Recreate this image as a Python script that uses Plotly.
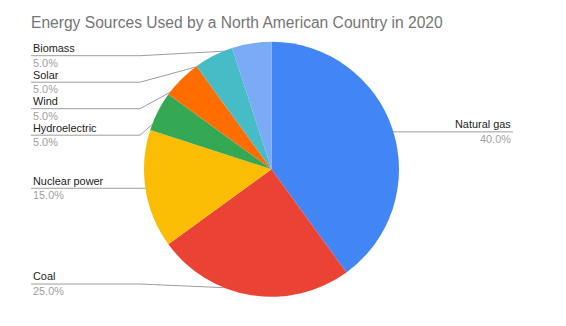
import math
import plotly.graph_objects as go

title = "Energy Sources Used by a North American Country in 2020"
categories = ["Natural gas", "Coal", "Nuclear power", "Hydroelectric", "Wind", "Solar", "Biomass"]
values = [40, 25, 15, 5, 5, 5, 5]
colors = ["#4285F4", "#EA4335", "#FBBC04", "#34A853", "#FF6D01", "#46BDC6", "#7BAAF7"]

W, H = 566, 326
# pie geometry (pixels)
cx, cy, R = 271.5, 169.3, 127.5
x0, x1 = cx - R, cx + R
y0, y1 = cy - R, cy + R

fig = go.Figure()
fig.add_trace(go.Pie(
    labels=categories, values=values, sort=False, direction="clockwise", rotation=0,
    marker=dict(colors=colors, line=dict(width=0)),
    textinfo="none", hoverinfo="label+percent", showlegend=False,
    domain=dict(x=[x0 / W, x1 / W], y=[(H - y1) / H, (H - y0) / H]),
))

total = sum(values)
cum = 0
items = []
for cat, v in zip(categories, values):
    mid = (cum + v / 2) / total * 2 * math.pi
    cum += v
    dx = 0.95 * R * math.sin(mid)
    dy = -0.95 * R * math.cos(mid)
    items.append(dict(cat=cat, pct=100 * v / total, px=cx + dx, py=cy + dy, right=dx > 0))

spacing = 26.5
top_min, bot_max = 55.7, 284
annotations = []
for side in (True, False):
    grp = sorted([it for it in items if it["right"] == side], key=lambda d: d["py"])
    prev = None
    for it in grp:
        ly = max(it["py"], top_min) if prev is None else max(it["py"], prev + spacing)
        it["ly"] = ly
        prev = ly
    nxt = None
    for it in reversed(grp):
        lim = bot_max if nxt is None else nxt - spacing
        it["ly"] = min(it["ly"], lim)
        nxt = it["ly"]

for it in items:
    if it["right"]:
        tx, kx, anchor = 513, x1 + 4, "right"
        xs = [it["px"], kx, tx]
    else:
        tx, kx, anchor = 31, x0 - 4, "left"
        xs = [tx, kx, it["px"]]
    ys = [it["ly"], it["ly"], it["ly"]]
    if it["right"]:
        ys[0] = it["py"]
    else:
        ys[2] = it["py"]
    fig.add_trace(go.Scatter(x=xs, y=ys, mode="lines", line=dict(color="#9e9e9e", width=1),
                             hoverinfo="skip", showlegend=False))
    fig.add_trace(go.Scatter(x=[it["px"]], y=[it["py"]], mode="markers",
                             marker=dict(color="#9e9e9e", size=4), hoverinfo="skip", showlegend=False))
    annotations.append(dict(x=tx, y=it["ly"] - 7.7, xref="x", yref="y", text=it["cat"], showarrow=False,
                            xanchor=anchor, yanchor="middle",
                            font=dict(family="Liberation Sans, Arial", size=10.9, color="#222222")))
    annotations.append(dict(x=tx, y=it["ly"] + 7, xref="x", yref="y", text=f"{it['pct']:.1f}%", showarrow=False,
                            xanchor=anchor, yanchor="middle",
                            font=dict(family="Liberation Sans, Arial", size=10.9, color="#a0a0a0")))

annotations.append(dict(x=29, y=22, xref="x", yref="y", text=title, showarrow=False,
                        xanchor="left", yanchor="middle",
                        font=dict(family="Liberation Sans, Arial", size=15.6, color="#757575")))

fig.update_layout(
    width=W, height=H, margin=dict(l=0, r=0, t=0, b=0),
    paper_bgcolor="white", plot_bgcolor="white",
    xaxis=dict(range=[0, W], visible=False, fixedrange=True, domain=[0, 1]),
    yaxis=dict(range=[H, 0], visible=False, fixedrange=True, domain=[0, 1]),
    annotations=annotations,
)
fig.write_html("out.html")
